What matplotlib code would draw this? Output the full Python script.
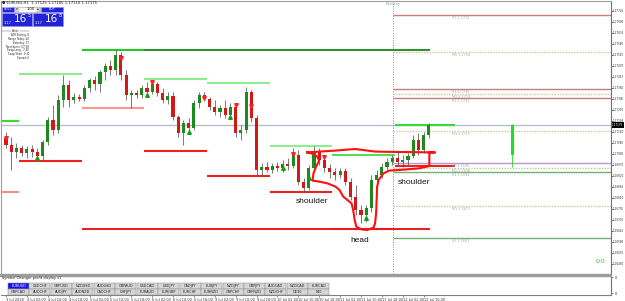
import numpy as np
import matplotlib
matplotlib.use("Agg")
import matplotlib.pyplot as plt
from matplotlib.patches import Rectangle

# ---- EURUSD candles, oldest first ----
opens = [1.17110, 1.17075, 1.17040, 1.17060, 1.17035, 1.17055, 1.17040, 1.17020, 1.17090, 1.17200,
         1.17150, 1.17300, 1.17375, 1.17300, 1.17315, 1.17305, 1.17360, 1.17400, 1.17380, 1.17440,
         1.17470, 1.17450, 1.17525, 1.17425, 1.17325, 1.17335, 1.17325, 1.17360, 1.17340, 1.17380,
         1.17335, 1.17300, 1.17320, 1.17215, 1.17135, 1.17185, 1.17160, 1.17285, 1.17325, 1.17305,
         1.17265, 1.17240, 1.17260, 1.17225, 1.17265, 1.17135, 1.17150, 1.17340, 1.17210, 1.16950,
         1.16965, 1.16950, 1.16970, 1.16960, 1.16980, 1.16970, 1.17025, 1.16890, 1.16860, 1.16960,
         1.17040, 1.17000, 1.16960, 1.16940, 1.16925, 1.16945, 1.16890, 1.16815, 1.16750, 1.16725,
         1.16760, 1.16900, 1.16925, 1.16965, 1.16990, 1.17010, 1.16990, 1.17000, 1.17020, 1.17100,
         1.17050, 1.17125]
highs = [1.17140, 1.17115, 1.17085, 1.17075, 1.17070, 1.17075, 1.17060, 1.17100, 1.17215, 1.17275,
         1.17325, 1.17425, 1.17400, 1.17335, 1.17330, 1.17375, 1.17410, 1.17420, 1.17450, 1.17485,
         1.17500, 1.17550, 1.17540, 1.17450, 1.17350, 1.17350, 1.17375, 1.17390, 1.17400, 1.17390,
         1.17360, 1.17340, 1.17340, 1.17225, 1.17200, 1.17210, 1.17300, 1.17340, 1.17340, 1.17315,
         1.17300, 1.17275, 1.17300, 1.17285, 1.17285, 1.17175, 1.17365, 1.17350, 1.17225, 1.16985,
         1.16990, 1.16985, 1.16990, 1.17000, 1.17010, 1.17060, 1.17050, 1.16910, 1.16975, 1.17070,
         1.17060, 1.17025, 1.16980, 1.16960, 1.16960, 1.16960, 1.16910, 1.16875, 1.16775, 1.16775,
         1.16925, 1.16950, 1.16985, 1.17010, 1.17025, 1.17040, 1.17025, 1.17035, 1.17125, 1.17135,
         1.17140, 1.17185]
lows = [1.17060, 1.16950, 1.17010, 1.17020, 1.17010, 1.17015, 1.17000, 1.17000, 1.17075, 1.17125,
        1.17135, 1.17265, 1.17265, 1.17285, 1.17295, 1.17295, 1.17340, 1.17350, 1.17340, 1.17400,
        1.17425, 1.17425, 1.17400, 1.17300, 1.17260, 1.17310, 1.17310, 1.17320, 1.17330, 1.17320,
        1.17285, 1.17280, 1.17200, 1.17115, 1.17075, 1.17140, 1.17150, 1.17260, 1.17295, 1.17250,
        1.17225, 1.17215, 1.17210, 1.17210, 1.17115, 1.17100, 1.17135, 1.17190, 1.16925, 1.16925,
        1.16940, 1.16935, 1.16945, 1.16940, 1.16950, 1.16960, 1.16875, 1.16840, 1.16850, 1.16940,
        1.16975, 1.16940, 1.16910, 1.16900, 1.16910, 1.16875, 1.16800, 1.16725, 1.16685, 1.16690,
        1.16740, 1.16875, 1.16910, 1.16950, 1.16975, 1.16975, 1.16965, 1.16975, 1.17010, 1.17025,
        1.17035, 1.17110]
closes = [1.17075, 1.17040, 1.17060, 1.17035, 1.17055, 1.17040, 1.17020, 1.17090, 1.17200, 1.17150,
          1.17300, 1.17375, 1.17300, 1.17315, 1.17305, 1.17360, 1.17400, 1.17380, 1.17440, 1.17470,
          1.17450, 1.17525, 1.17425, 1.17325, 1.17335, 1.17325, 1.17360, 1.17340, 1.17380, 1.17335,
          1.17300, 1.17320, 1.17215, 1.17135, 1.17185, 1.17160, 1.17285, 1.17325, 1.17305, 1.17265,
          1.17240, 1.17260, 1.17225, 1.17265, 1.17135, 1.17150, 1.17340, 1.17210, 1.16950, 1.16965,
          1.16950, 1.16970, 1.16960, 1.16980, 1.16970, 1.17025, 1.16890, 1.16860, 1.16960, 1.17040,
          1.17000, 1.16960, 1.16940, 1.16925, 1.16945, 1.16890, 1.16815, 1.16750, 1.16725, 1.16760,
          1.16900, 1.16925, 1.16965, 1.16990, 1.17010, 1.16990, 1.17000, 1.17020, 1.17100, 1.17050,
          1.17125, 1.17175]
current_price = 1.17175

time_labels = ["3 Jul 2018", "4 Jul 02:00", "4 Jul 10:00", "4 Jul 18:00", "5 Jul 02:00",
               "5 Jul 10:00", "5 Jul 18:00", "6 Jul 02:00", "6 Jul 10:00", "6 Jul 18:00",
               "9 Jul 02:00", "9 Jul 10:00", "9 Jul 18:00", "10 Jul 02:00", "10 Jul 10:00",
               "10 Jul 18:00", "11 Jul 02:00", "11 Jul 10:00", "11 Jul 18:00", "12 Jul 02:00",
               "12 Jul 10:00"]

# fractal arrows
red_arrow_idx = [0, 22, 28, 38, 44, 47, 55, 61]
red_arrow_px = [1.17110, 1.17510, 1.17390, 1.17310, 1.17275, 1.17270, 1.17030, 1.17015]
green_arrow_idx = [6, 27, 35, 43, 53, 58, 69]
green_arrow_px = [1.17010, 1.17325, 1.17140, 1.17215, 1.16960, 1.16910, 1.16710]

# previous-day high / low lines (bar index from -> to)
day_from = [-1, 2.5, 14.5, 26.5, 38.5, 50.5, 62.5, 74.5]
day_to = [2.5, 14.5, 26.5, 38.5, 50.5, 62.5, 74.5, 86.0]
day_high = [1.17195, 1.17430, 1.17550, 1.17405, 1.17385, 1.17070, 1.17025, 1.17175]
day_low = [1.16840, 1.16995, 1.17260, 1.17045, 1.16920, 1.16840, 1.16655, 1.16970]
high_colors = ["#33dd33", "#8cee8c", "#22cc22", "#8cee8c", "#8cee8c", "#8cee8c", "#55dd55", "#33dd33"]
low_colors = ["#ff8c8c", "#ee2020", "#ff9494", "#ee2020", "#ee2020", "#ee2020", "#ee2020", "#ee2020"]
top_line = 1.17550
bottom_line = 1.16655

# daily pivots
pivot_names = ["R3", "M5", "R2", "M4", "R1", "M3", "PP", "M2", "S1", "M1", "S2"]
pivot_prices = [1.17725, 1.17540, 1.17355, 1.17330, 1.17310, 1.17145, 1.16985, 1.16960, 1.16940, 1.16770, 1.16610]

# today's range candle on the right
today_open, today_high, today_low, today_close = 1.17025, 1.17180, 1.16965, 1.17175

# head & shoulders outline drawn on the chart
hs_x = [57.7, 60.0, 63.1, 65.4, 66.9, 68.4, 70.7, 75.3, 82.2, 81.1, 81.1, 79.1, 75.3, 73.4, 72.3,
        71.4, 71.1, 71.0, 70.9, 70.7, 70.4, 69.2, 68.1, 67.1, 66.8, 66.5, 66.2, 64.6, 63.9, 63.1,
        61.6, 60.0, 58.7, 58.9, 59.4, 60.0, 59.6, 58.9, 57.7]
hs_y = [1.17038, 1.17042, 1.17047, 1.17052, 1.17055, 1.17050, 1.17042, 1.17040, 1.17038, 1.17038,
        1.16970, 1.16958, 1.16950, 1.16947, 1.16933, 1.16900, 1.16867, 1.16800, 1.16733, 1.16683,
        1.16662, 1.16650, 1.16653, 1.16667, 1.16700, 1.16750, 1.16783, 1.16817, 1.16850, 1.16867,
        1.16883, 1.16892, 1.16897, 1.16933, 1.16967, 1.16997, 1.17017, 1.17030, 1.17038]
hs_labels = ["shoulder", "head", "shoulder"]
hs_label_x = [58.7, 67.7, 78.2]
hs_label_y = [1.16792, 1.16597, 1.16885]

symbols_row1 = ["EURUSD", "USDCHF", "GBPUSD", "NZDUSD", "AUDUSD", "GBPAUD", "USDCAD", "USDJPY",
                "CADJPY", "EURJPY", "NZDJPY", "GBPJPY", "AUDCAD", "NZDCAD", "EURCAD"]
symbols_row2 = ["GBPCAD", "AUDCHF", "AUDJPY", "AUDNZD", "CADCHF", "CHFJPY", "EURAUD", "EURGBP",
                "EURCHF", "EURNZD", "GBPCHF", "GBPNZD", "NZDCHF", "DE30", "F40"]
info_lines = ["ATR Setting: 8", "Range Today: 44", "Yesterday: 77", "Next bar in: 57:58",
              "Swap Long: -7.40", "Swap Short: 0.30", "Spread: 6"]

W, H = 625, 301
X_MIN, X_MAX = -0.96, 115.9
TINY = 2.7


def rect(left, top, width, height):
    return [left / W, 1 - (top + height) / H, width / W, height / H]


fig = plt.figure(figsize=(6.25, 3.01), dpi=100, facecolor="white")

# ---------------- main price window ----------------
ax = fig.add_axes(rect(1, 1, 610, 273))
ax.set_xlim(X_MIN, X_MAX)
ax.set_ylim(1.16430, 1.17795)
for s in ["top", "left"]:
    ax.spines[s].set_color("#a0a0a0")
    ax.spines[s].set_linewidth(0.8)
ax.spines["bottom"].set_visible(False)
ax.spines["right"].set_color("#707070")
ax.spines["right"].set_linewidth(0.8)
ax.set_xticks([])
ax.yaxis.tick_right()
yt = [1.17745 - 0.00055 * k for k in range(24)]
ax.set_yticks(yt)
ax.set_yticklabels([f"{v:.5f}" for v in yt])
ax.tick_params(axis="y", labelsize=2.0, length=1.2, width=0.5, pad=0.4, colors="#303030")

o = np.array(opens); h = np.array(highs); l = np.array(lows); c = np.array(closes)
idx = np.arange(len(o))
ax.axhline(current_price, color="#b4c0cc", lw=1, zorder=1)
ax.axvline(74.2, color="#8a8a8a", lw=0.7, ls=(0, (1, 1.5)), zorder=1)

ax.vlines(idx, l, h, color="#454545", lw=0.5, zorder=3)
body_low = np.minimum(o, c)
body_h = np.maximum(np.abs(c - o), 0.00002)
body_col = np.where(c >= o, "#1e8a1e", "#d41818")
ax.bar(idx, body_h, bottom=body_low, width=0.6, color=body_col, edgecolor="none", zorder=4)

ax.plot(red_arrow_idx, red_arrow_px, ls="none", marker="v", ms=2.6, color="#ff2020", zorder=5)
ax.plot(green_arrow_idx, green_arrow_px, ls="none", marker="^", ms=2.6, color="#10a010", zorder=5)

ax.hlines(day_high, day_from, day_to, colors=high_colors, lw=1.5, zorder=2)
ax.hlines(day_low, day_from, day_to, colors=low_colors, lw=1.5, zorder=2)
ax.hlines(top_line, 26.5, 81.3, colors="#158a15", lw=1.3, zorder=2)
ax.hlines(bottom_line, 14.5, 81.3, colors="#ee1818", lw=1.4, zorder=2)

for name, p in zip(pivot_names, pivot_prices):
    if name.startswith("M"):
        col, ls = "#c8c8a0", (0, (1, 1))
    elif name.startswith("R"):
        col, ls = "#c87c7c", "-"
    elif name.startswith("S"):
        col, ls = "#74b074", "-"
    else:
        col, ls = "#b898cc", "-"
    ax.hlines(p, 74.2, X_MAX, colors=col, lw=1.0, linestyles=ls, zorder=2)
    ax.text(85.5, p - 0.00013, f"{name} {p:.4f}", fontsize=2.4, color="#a8a8a8",
            va="center", ha="left", zorder=2)

ax.vlines(97.0, today_low, today_high, color="#22dd22", lw=0.6, zorder=3)
ax.bar(97.0, today_close - today_open, bottom=today_open, width=0.6, color="#22dd22",
       edgecolor="none", zorder=4)

ax.plot(hs_x, hs_y, color="#ff1010", lw=1.5, zorder=6, solid_joinstyle="round")
for t, x, y in zip(hs_labels, hs_label_x, hs_label_y):
    ax.text(x, y, t, fontsize=6, family="Liberation Sans", color="#151515",
            ha="center", va="center", zorder=7)

ax.text(113.8, 1.16490, "0.0", fontsize=4.5, color="#22cc22", ha="center", va="center")
ax.text(1.002, current_price, f"{current_price:.5f}", transform=ax.get_yaxis_transform(),
        fontsize=2.0, color="white", va="center", ha="left", clip_on=False,
        bbox=dict(boxstyle="square,pad=0.2", fc="black", ec="none"))

# ---------------- bottom panel + time scale ----------------
axp = fig.add_axes(rect(1, 275.5, 610, 19.5))
axp.set_xlim(X_MIN, X_MAX)
axp.set_ylim(0, 1)
axp.set_facecolor("white")
axp.spines["top"].set_visible(False)
axp.spines["left"].set_visible(False)
axp.spines["right"].set_color("#707070")
axp.spines["bottom"].set_color("#808080")
axp.set_xticks(np.arange(len(time_labels)) * 4)
axp.set_xticklabels(time_labels)
for lab in axp.get_xticklabels():
    lab.set_ha("left")
axp.tick_params(axis="x", labelsize=2.5, length=1.5, width=0.4, pad=0.8, colors="#303030")
axp.yaxis.tick_right()
axp.set_yticks([0.1, 0.92])
axp.set_yticklabels(["0", "0"])
axp.tick_params(axis="y", labelsize=2.5, length=1.5, width=0.4, pad=1, colors="#303030")

# ---------------- overlay: terminal widgets ----------------
ui = fig.add_axes([0, 0, 1, 1], zorder=10)
ui.set_xlim(0, W)
ui.set_ylim(H, 0)
ui.axis("off")

ui.add_patch(Rectangle((0, 273.6), 611, 1.9, color="#9c9c9c"))
ui.text(2, 3.3, "\u25cf EURUSD,H1  1.17125 1.17185 1.17110 1.17175", fontsize=TINY,
        va="center", ha="left", color="#202020")
ui.text(393, 3.8, "Monday", fontsize=TINY, va="center", ha="center", color="#a0a0a0")

blue = "#2222d6"
ui.add_patch(Rectangle((2, 7), 12, 5, fc=blue, ec="#8c8cff", lw=0.4))
ui.text(8, 9.5, "SELL", fontsize=2.5, color="white", ha="center", va="center")
ui.add_patch(Rectangle((15, 7), 25, 5, fc="white", ec="#9a9a9a", lw=0.4))
ui.add_patch(Rectangle((15, 7), 3.5, 5, fc="#dcdcdc", ec="#9a9a9a", lw=0.3))
ui.add_patch(Rectangle((36.5, 7), 3.5, 5, fc="#dcdcdc", ec="#9a9a9a", lw=0.3))
ui.text(16.8, 9.5, "\u25be", fontsize=2.5, ha="center", va="center")
ui.text(38.2, 9.5, "\u25b4", fontsize=2.5, ha="center", va="center")
ui.text(31, 9.5, "1.00", fontsize=2.6, ha="center", va="center")
ui.add_patch(Rectangle((41, 7), 22, 5, fc=blue, ec="#8c8cff", lw=0.4))
ui.text(52, 9.5, "BUY", fontsize=2.5, color="white", ha="center", va="center")
for x0, sup in [(2, "5"), (33, "8")]:
    ui.add_patch(Rectangle((x0, 12.5), 30, 13, fc=blue, ec="#8c8cff", lw=0.4))
    ui.text(x0 + 2, 22.5, "1.17", fontsize=2.6, color="white", ha="left", va="center")
    ui.text(x0 + 18, 19.3, "16", fontsize=7.5, color="white", ha="center", va="center")
    ui.text(x0 + 26, 15.5, sup, fontsize=3.5, color="white", ha="left", va="center")

ui.plot([2, 11], [31.2, 31.2], color="#606060", lw=0.3)
ui.plot([20, 29], [31.2, 31.2], color="#606060", lw=0.3)
ui.text(15.5, 31.2, "Panel", fontsize=2.0, ha="center", va="center", color="#202020")
for k, line in enumerate(info_lines):
    ui.text(29, 34.8 + 3.9 * k, line, fontsize=1.8, ha="right", va="center", color="#202020")

ui.text(2, 278.2, "Symbol Changer profit display v1", fontsize=2.5, ha="left", va="center",
        color="#202020")
for row, (names, top) in enumerate([(symbols_row1, 282.6), (symbols_row2, 289.0)]):
    for k, name in enumerate(names):
        x0 = 8 + 21.45 * k
        sel = row == 0 and k == 0
        ui.add_patch(Rectangle((x0, top), 21, 6, fc="#1414e6" if sel else "#d6d6d6",
                               ec="#8c8c8c", lw=0.35))
        ui.text(x0 + 10.5, top + 3, name, fontsize=2.5, ha="center", va="center",
                color="white" if sel else "#202020")

fig.savefig("out.png", dpi=100, facecolor="white")
